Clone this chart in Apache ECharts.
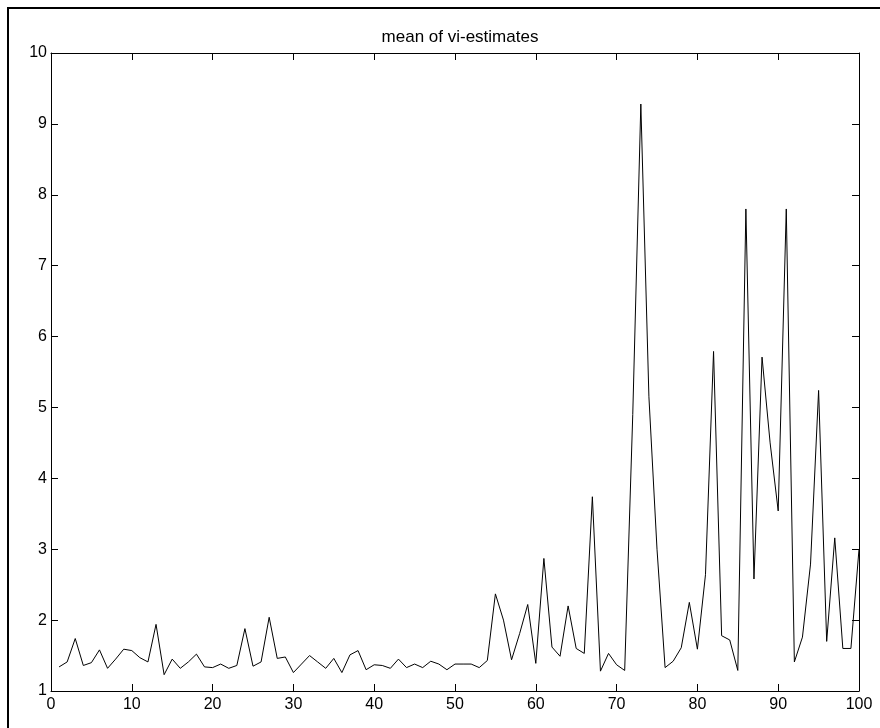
<!DOCTYPE html>
<html>
<head>
<meta charset="utf-8">
<script src="https://cdn.jsdelivr.net/npm/echarts@6/dist/echarts.min.js"></script>
<style>
html,body{margin:0;padding:0;background:#fff;overflow:hidden;}
#chart{width:880px;height:728px;}
</style>
</head>
<body>
<div id="chart"></div>
<script>
const titleText = 'mean of vi-estimates';
const runIndex = Array.from({length: 100}, (_, i) => i + 1);
const meanValues = [
  1.34, 1.41, 1.74, 1.36, 1.40, 1.58, 1.32, 1.45, 1.59, 1.57,
  1.47, 1.41, 1.94, 1.23, 1.45, 1.32, 1.41, 1.52, 1.34, 1.33,
  1.38, 1.32, 1.36, 1.88, 1.35, 1.41, 2.04, 1.46, 1.48, 1.26,
  1.38, 1.50, 1.41, 1.32, 1.46, 1.26, 1.51, 1.57, 1.30, 1.37,
  1.36, 1.32, 1.45, 1.33, 1.38, 1.33, 1.42, 1.38, 1.30, 1.38,
  1.38, 1.38, 1.33, 1.43, 2.37, 2.00, 1.44, 1.81, 2.22, 1.39,
  2.87, 1.62, 1.49, 2.20, 1.60, 1.53, 3.74, 1.28, 1.53, 1.37,
  1.29, 4.90, 9.28, 5.15, 3.00, 1.33, 1.42, 1.61, 2.25, 1.59,
  2.64, 5.79, 1.78, 1.72, 1.29, 7.80, 2.58, 5.71, 4.50, 3.54,
  7.80, 1.41, 1.76, 2.79, 5.24, 1.70, 3.16, 1.60, 1.60, 3.00
];
const xMin = 0, xMax = 100, xStep = 10;
const yMin = 1, yMax = 10, yStep = 1;

const font = "'Liberation Sans', Arial, Helvetica, sans-serif";
const chart = echarts.init(document.getElementById('chart'), null, {renderer: 'canvas'});

function axisBase(extra) {
  return Object.assign({
    axisLine: {show: true, onZero: false, lineStyle: {color: '#000', width: 1}},
    axisTick: {show: true, inside: true, length: 7, lineStyle: {color: '#000', width: 1}},
    splitLine: {show: false},
    axisLabel: {color: '#000', fontSize: 16, fontFamily: font}
  }, extra);
}

chart.setOption({
  animation: false,
  backgroundColor: '#fff',
  title: {
    text: titleText,
    left: 455,
    top: 24,
    textAlign: 'center',
    textStyle: {fontSize: 17, fontWeight: 'normal', color: '#000', fontFamily: font}
  },
  grid: {left: 51, top: 53, width: 808, height: 638, containLabel: false},
  xAxis: [
    axisBase({type: 'value', min: xMin, max: xMax, interval: xStep, position: 'bottom',
      axisLabel: {color: '#000', fontSize: 16, fontFamily: font, margin: 6}}),
    axisBase({type: 'value', min: xMin, max: xMax, interval: xStep, position: 'top',
      axisLabel: {show: false}})
  ],
  yAxis: [
    axisBase({type: 'value', min: yMin, max: yMax, interval: yStep, position: 'left',
      axisLabel: {color: '#000', fontSize: 16, fontFamily: font, margin: 4}}),
    axisBase({type: 'value', min: yMin, max: yMax, interval: yStep, position: 'right',
      axisLabel: {show: false}})
  ],
  graphic: [{
    type: 'rect',
    shape: {x: 8, y: 8, width: 2000, height: 2000},
    style: {fill: 'none', stroke: '#000', lineWidth: 2},
    silent: true
  }],
  series: [{
    type: 'line',
    xAxisIndex: 0,
    yAxisIndex: 0,
    data: runIndex.map((x, i) => [x, meanValues[i]]),
    showSymbol: false,
    symbol: 'none',
    lineStyle: {color: '#000', width: 1},
    itemStyle: {color: '#000'}
  }]
});
</script>
</body>
</html>
